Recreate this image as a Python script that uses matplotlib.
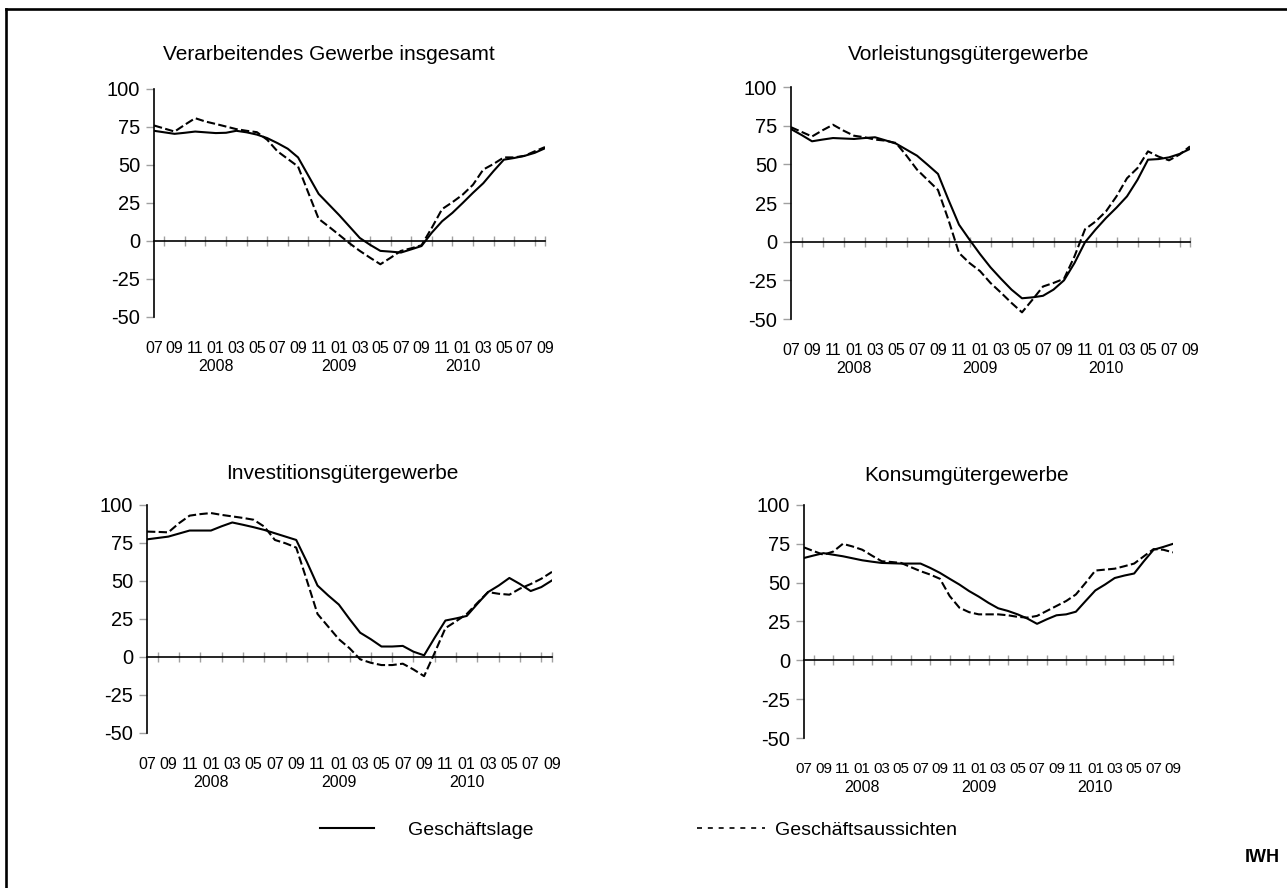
import matplotlib
matplotlib.use("Agg")
import matplotlib.pyplot as plt
from matplotlib.lines import Line2D
import numpy as np

plt.rcParams['font.family'] = ['Liberation Sans', 'DejaVu Sans']
plt.rcParams['axes.unicode_minus'] = False

# monthly values, 07/2007 .. 09/2010
months = np.arange(39)
month_labels = ["07", "09", "11", "01", "03", "05", "07", "09", "11", "01",
                "03", "05", "07", "09", "11", "01", "03", "05", "07", "09"]
year_pos = [6, 18, 30]
year_labels = ["2008", "2009", "2010"]

titles = ["Verarbeitendes Gewerbe insgesamt", "Vorleistungsgütergewerbe",
          "Investitionsgütergewerbe", "Konsumgütergewerbe"]

lage_gesamt = [72.5, 71.5, 70.5, 71.2, 72, 71.5, 71, 71.2, 72.5, 71.5, 70, 67.7, 64.4,
               60.7, 55, 43, 31, 24, 17, 9.5, 2, -2.5, -6.5, -7, -7.6, -5.5, -3.3, 5.5,
               13, 18.5, 25, 31.7, 38, 46, 53.5, 54.6, 56, 58, 61]
aussicht_gesamt = [76, 74, 72, 76.5, 80.8, 78.6, 77, 75.3, 73.6, 72.5, 71.6, 66.6, 59,
                   54, 49, 31.7, 14.6, 9.4, 4, -1.5, -6.5, -11, -15.3, -11, -6.5, -4.8,
                   -2.8, 8.7, 21, 25.5, 30.5, 37, 47, 50.7, 55, 55, 56, 59, 61.8]

lage_vorl = [72.8, 69, 64.9, 66, 67, 66.7, 66.4, 67, 67.5, 65.5, 63.4, 59.5, 55.6, 49.8,
             43.8, 27, 11, 1.3, -8, -16.6, -24, -31, -36.6, -36, -35, -31, -25, -13.8,
             -0.4, 7.8, 15.3, 22, 29.3, 40, 53, 53.4, 54.5, 56.7, 60]
aussicht_vorl = [74, 71, 68, 72, 75.6, 71.8, 68.5, 67.5, 66, 65.3, 63.8, 55.6, 46.6, 40,
                 33.4, 14, -7.3, -13.8, -19, -26.7, -33, -39.6, -45.7, -37.5, -29, -26.7,
                 -24, -9.5, 8, 13, 19.6, 29.3, 41, 47.6, 58.4, 55, 52.6, 56.3, 61.6]

lage_inv = [77.4, 78.3, 79.2, 81.2, 83.2, 83.2, 83.2, 86, 88.5, 87, 85.4, 83.6, 81.4,
            79.2, 77, 62.6, 47, 40.5, 34.5, 25, 16, 11.7, 6.9, 6.9, 7.3, 3.5, 1.1, 12.8,
            24, 25.4, 27, 35, 42.7, 47, 52, 48, 43.4, 46, 50.4]
aussicht_inv = [82.5, 82.3, 82, 88, 93, 94, 94.7, 93.5, 92.5, 91.5, 90.3, 85.8, 77, 74.8,
                72, 50.4, 28.3, 20, 11.7, 5.8, -1.5, -3.8, -5.3, -5.3, -4.4, -8.2, -12.6,
                2.9, 19, 23.5, 28.3, 35.6, 42.7, 41.6, 41, 45, 48, 51.5, 56]

lage_kons = [65.9, 67.5, 69, 68, 67, 65.7, 64.4, 63.5, 62.7, 62.5, 62.3, 62.3, 62.3, 59.5,
             56.3, 52.5, 48.8, 44.6, 41, 37, 33.5, 31.8, 29.6, 26.9, 23.5, 26.4, 29, 29.6,
             31.3, 38.2, 45, 48.8, 53, 54.6, 55.9, 63.8, 71.2, 73, 75]
aussicht_kons = [72.7, 70.3, 68, 70, 75, 73.3, 71.2, 67.4, 63.8, 63.3, 62.7, 60, 57.4,
                 55.2, 52.5, 41.4, 33.9, 31, 29.6, 29.6, 29.6, 29, 28, 27.5, 28.6, 31.8, 35,
                 38.2, 42.4, 49.9, 57.8, 58.4, 59, 60.6, 62.3, 67, 71.6, 71.2, 69.5]

lage = [lage_gesamt, lage_vorl, lage_inv, lage_kons]
aussicht = [aussicht_gesamt, aussicht_vorl, aussicht_inv, aussicht_kons]

W, H = 1287, 888
fig = plt.figure(figsize=(W / 100, H / 100), dpi=100)

# axes boxes in pixels: left, top, right, bottom
boxes = [(154, 89, 545, 317), (791, 87, 1190, 319),
         (147, 505, 552, 733), (804, 505, 1173, 738)]
title_pos = [(329, 55), (969, 55), (342, 473), (967, 475)]
month_size = [11.5, 11.5, 11.5, 10.8]

grey = "#a0a0a0"
for k in range(4):
    l, t, r, b = boxes[k]
    ax = fig.add_axes([l / W, 1 - b / H, (r - l) / W, (b - t) / H])
    sol, = ax.plot(months, lage[k], color="black", lw=1.5)
    das, = ax.plot(months, aussicht[k], color="black", lw=1.5, dashes=(4, 1.6))
    ax.set_xlim(0, 38)
    ax.set_ylim(-50, 100)
    for s in ["top", "right"]:
        ax.spines[s].set_visible(False)
    ax.spines["left"].set_linewidth(1.2)
    ax.spines["bottom"].set_position(("data", 0))
    ax.spines["bottom"].set_linewidth(1.2)
    ax.set_yticks(np.arange(-50, 101, 25))
    ax.tick_params(axis="y", direction="out", length=6, width=1, color=grey,
                   labelsize=14.5, pad=4)
    # grey tick marks crossing the zero line
    ax.set_xticks(list(months[1::2]) + [38])
    ax.tick_params(axis="x", direction="inout", length=7, width=1, color=grey,
                   labelbottom=False)
    # month labels below the plot
    sec = ax.secondary_xaxis(0)
    sec.spines["bottom"].set_visible(False)
    sec.set_xticks(months[::2])
    sec.set_xticklabels(month_labels)
    sec.tick_params(length=0, labelsize=month_size[k], pad=17)
    # year labels under the january months
    yr = ax.secondary_xaxis(0)
    yr.spines["bottom"].set_visible(False)
    yr.set_xticks(year_pos)
    yr.set_xticklabels(year_labels)
    yr.tick_params(length=0, labelsize=11.5, pad=30.5)
    fig.text(title_pos[k][0] / W, 1 - title_pos[k][1] / H, titles[k],
             ha="center", va="center", fontsize=15)

fig.legend(handles=[sol], labels=["Geschäftslage"], loc="center left",
           bbox_to_anchor=(320 / W, 1 - 830 / H), frameon=False, fontsize=14,
           handlelength=2.8, handletextpad=1.75, borderpad=0, borderaxespad=0)
fig.legend(handles=[Line2D([], [], color="black", lw=1.2, dashes=(3, 3.5))],
           labels=["Geschäftsaussichten"], loc="center left",
           bbox_to_anchor=(697 / W, 1 - 830 / H), frameon=False, fontsize=14,
           handlelength=3.5, handletextpad=0.5, borderpad=0, borderaxespad=0)

fig.text(1280 / W, 1 - 857 / H, "IWH", ha="right", va="center",
         fontsize=13, fontweight="bold")

# frame on left and top
fig.add_artist(Line2D([6 / W, 6 / W], [0, 1 - 9.5 / H], color="black", lw=1.9))
fig.add_artist(Line2D([6 / W, 1], [1 - 9.5 / H, 1 - 9.5 / H], color="black", lw=1.9))

fig.savefig("out.png", dpi=100)
